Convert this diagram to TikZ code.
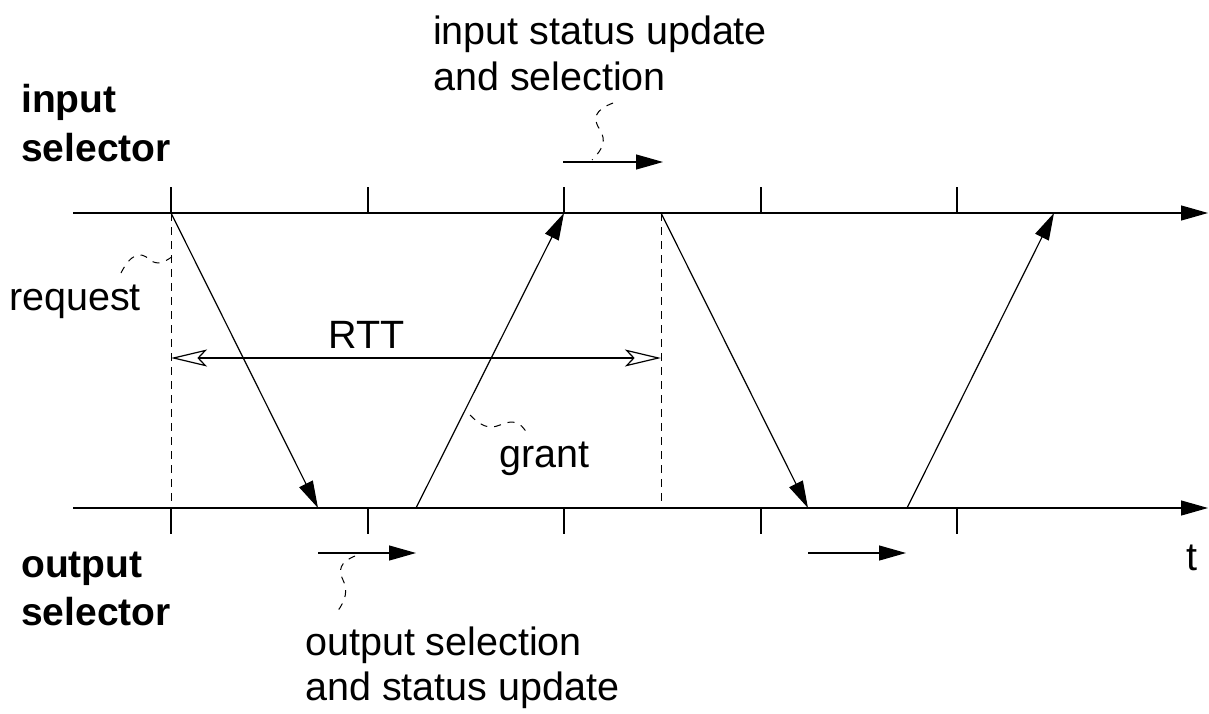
\documentclass[tikz,border=0pt]{standalone}
\usepackage{fontspec}
\setmainfont{Liberation Sans}
\usetikzlibrary{arrows.meta}
\begin{document}
\begin{tikzpicture}[x=1pt,y=-1pt,
  ln/.style={line width=1.2pt},
  arr/.style={ln,-{Triangle[length=27pt,width=15pt]}},
  dsh/.style={line width=1pt,dash pattern=on 8pt off 6pt},
  squig/.style={line width=1pt,dash pattern=on 7pt off 7pt},
  lbl/.style={font=\fontsize{39.5}{46}\selectfont,inner sep=0pt,anchor=base west},
  blbl/.style={lbl,font=\fontsize{39}{46}\selectfont\bfseries}]
\useasboundingbox (0,0) rectangle (1209,714);
% axes
\coordinate (t0) at (73,213); \coordinate (t1) at (1208,213);
\coordinate (b0) at (73,508); \coordinate (b1) at (1208,508);
\draw[arr] (t0) -- (t1);
\draw[arr] (b0) -- (b1);
% ticks
\foreach \x in {171,368,564,761,957}{
  \draw[ln] (\x,213) -- (\x,187);
  \draw[ln] (\x,508) -- (\x,534);
}
% dashed verticals
\coordinate (d1t) at (171,213); \coordinate (d1b) at (171,508);
\coordinate (d2t) at (661,213); \coordinate (d2b) at (661,508);
\draw[dsh] (d1t) -- (d1b);
\draw[dsh] (d2t) -- (d2b);
% messages
\coordinate (m1a) at (171,213); \coordinate (m1b) at (318,508);
\coordinate (m2a) at (416,508); \coordinate (m2b) at (564,213);
\coordinate (m3a) at (661,213); \coordinate (m3b) at (808,508);
\coordinate (m4a) at (907,508); \coordinate (m4b) at (1054,213);
\draw[arr] (m1a) -- (m1b);
\draw[arr] (m2a) -- (m2b);
\draw[arr] (m3a) -- (m3b);
\draw[arr] (m4a) -- (m4b);
% RTT
\coordinate (r0) at (171,358); \coordinate (r1) at (661,358);
\draw[ln,{Stealth[open,length=36pt,width=17pt,inset=8pt]}-{Stealth[open,length=36pt,width=17pt,inset=8pt]}] (r0) -- (r1);
\node[lbl,anchor=base] (rtt) at (367,348) {RTT};
% small processing arrows
\coordinate (s1a) at (563,162); \coordinate (s1b) at (663,162);
\coordinate (s2a) at (318,553); \coordinate (s2b) at (416,553);
\coordinate (s3a) at (808,553); \coordinate (s3b) at (906,553);
\draw[arr] (s1a) -- (s1b);
\draw[arr] (s2a) -- (s2b);
\draw[arr] (s3a) -- (s3b);
% labels
\node[blbl] (insel1) at (21,113) {input};
\node[blbl] (insel2) at (21,162) {selector};
\node[blbl] (outsel1) at (21,577) {output};
\node[blbl] (outsel2) at (21,625) {selector};
\node[lbl] (req) at (9,310) {request};
\node[lbl] (grant) at (499,467) {grant};
\node[lbl] (isu1) at (433,45) {input status update};
\node[lbl] (isu2) at (433,91) {and selection};
\node[lbl] (osu1) at (305,655) {output selection};
\node[lbl] (osu2) at (305,700) {and status update};
\node[lbl] (t) at (1186,570) {t};
% squiggly leaders
\draw[squig] (121,273) .. controls (130,255) and (140,250) .. (150,260)
   .. controls (158,266) and (165,262) .. (176,254);
\draw[squig] (470,415) .. controls (480,425) and (488,430) .. (500,425)
   .. controls (512,420) and (520,420) .. (528,435);
\draw[squig] (613,103) .. controls (595,110) and (592,118) .. (600,130)
   .. controls (606,140) and (604,148) .. (592,160);
\draw[squig] (355,556) .. controls (340,562) and (338,570) .. (343,580)
   .. controls (348,590) and (346,600) .. (337,612);
\end{tikzpicture}
\end{document}
